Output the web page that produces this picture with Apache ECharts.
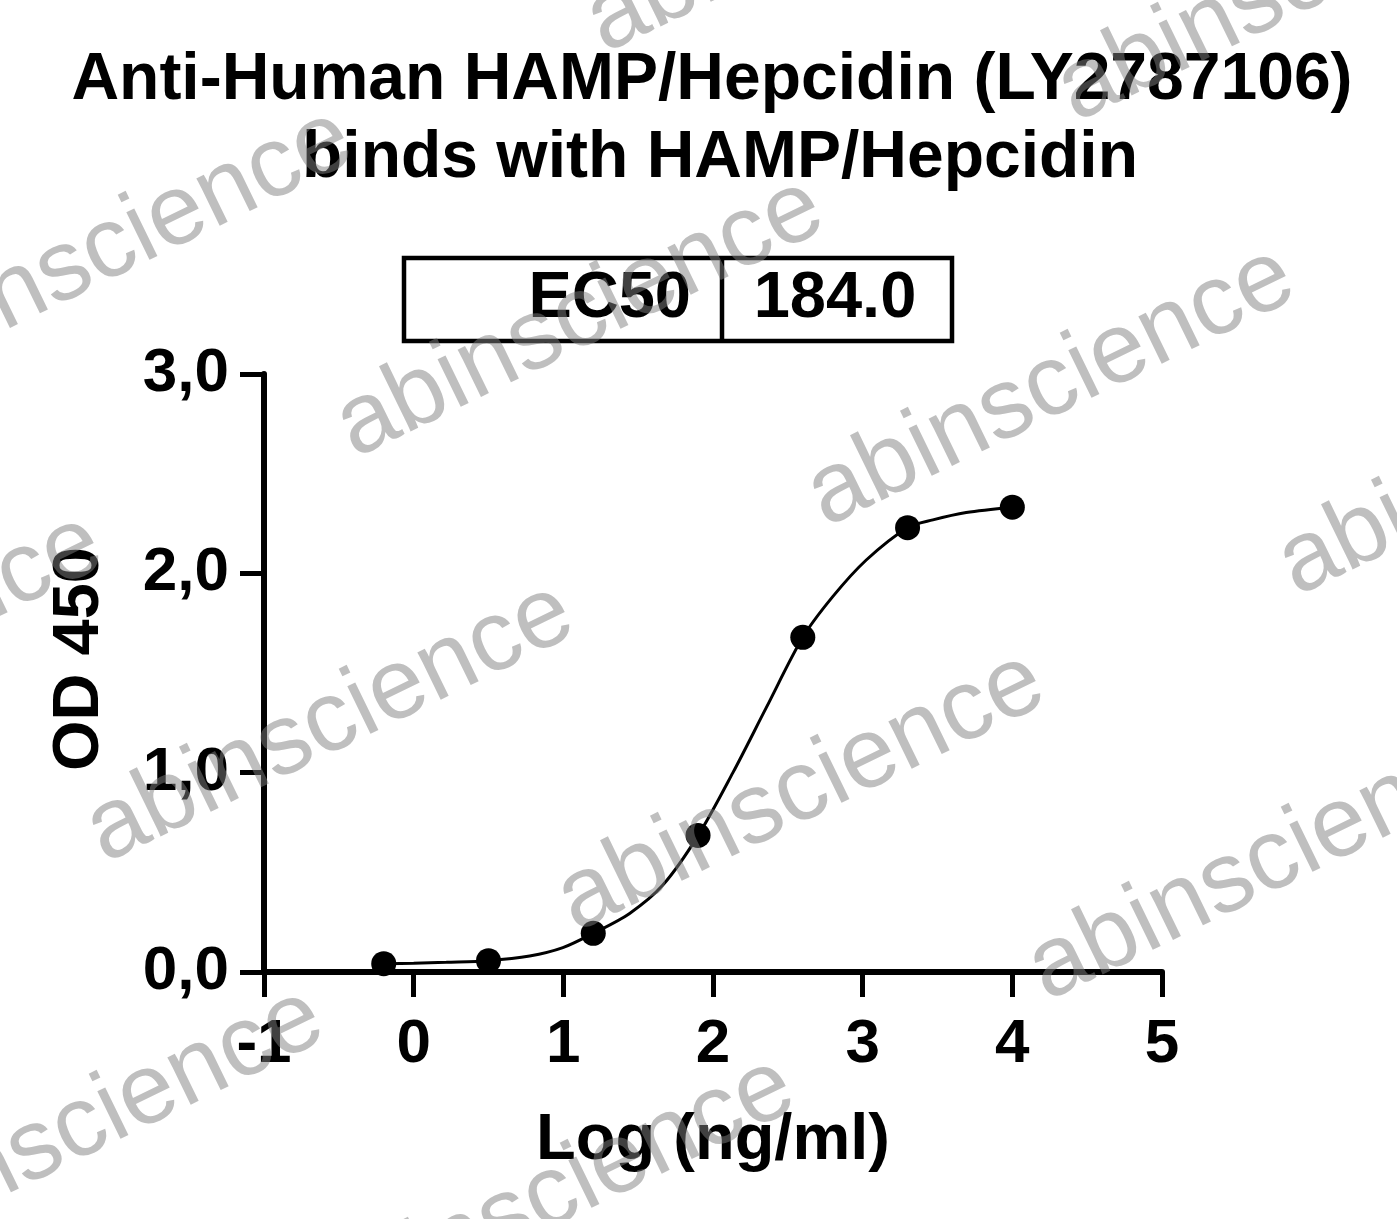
<!DOCTYPE html>
<html>
<head>
<meta charset="utf-8">
<script src="https://cdn.jsdelivr.net/npm/echarts@6/dist/echarts.min.js"></script>
<style>
html,body{margin:0;padding:0;background:#fff;}
#chart{width:1397px;height:1219px;}
</style>
</head>
<body>
<div id="chart"></div>
<script>
// ---- data ----
const titleLines = ['Anti-Human HAMP/Hepcidin (LY2787106)', 'binds with HAMP/Hepcidin'];
const ec50Label = 'EC50';
const ec50Value = '184.0';
const xAxisTitle = 'Log (ng/ml)';
const yAxisTitle = 'OD 450';
const watermarkText = 'abinscience';

// measured points
const logConc = [-0.2, 0.5, 1.2, 1.9, 2.6, 3.3, 4.0];
const od450   = [0.042, 0.057, 0.194, 0.685, 1.679, 2.229, 2.332];

// fitted curve
const fitX = [-0.2, 0.0, 0.218, 0.5, 0.775, 0.997, 1.2, 1.443, 1.665, 1.9, 2.133, 2.356, 2.6, 2.80, 3.024, 3.3, 3.469, 3.692, 4.0];
const fitY = [0.042, 0.044, 0.049, 0.057, 0.08, 0.122, 0.194, 0.294, 0.436, 0.684, 1.0, 1.326, 1.679, 1.883, 2.067, 2.229, 2.268, 2.305, 2.332];

// ---- chart ----
const FONT = '"Liberation Sans", Arial, sans-serif';
const chart = echarts.init(document.getElementById('chart'));

const wmBase = [580, 318], wmA = [471, 69], wmB = [-250, 405];
const wmCells = [[0,-1],[1,-1],[-1,0],[0,0],[1,0],[2,0],[-1,1],[0,1],[1,1],[2,1],[-1,2],[0,2],[1,2]];
const watermarks = wmCells.map(([i, j]) => ({
  type: 'text',
  x: wmBase[0] + i * wmA[0] + j * wmB[0],
  y: wmBase[1] + i * wmA[1] + j * wmB[1],
  rotation: 26 * Math.PI / 180,
  z: 100,
  silent: true,
  style: {
    text: watermarkText,
    font: '100px ' + FONT,
    fill: 'rgba(128,128,128,0.5)',
    textAlign: 'center',
    textVerticalAlign: 'middle'
  }
}));

const option = {
  backgroundColor: '#fff',
  animation: false,
  grid: { left: 264, right: 235, top: 374, bottom: 247, containLabel: false, outerBoundsMode: 'none' },
  xAxis: {
    type: 'value', min: -1, max: 5, interval: 1,
    splitLine: { show: false },
    axisLine: { show: true, onZero: false, lineStyle: { color: '#000', width: 6 } },
    axisTick: { show: true, length: 25, lineStyle: { color: '#000', width: 5 } },
    axisLabel: { color: '#000', fontSize: 62, fontWeight: 'bold', fontFamily: FONT, margin: 42 }
  },
  yAxis: {
    type: 'value', min: 0, max: 3, interval: 1,
    splitLine: { show: false },
    axisLine: { show: true, onZero: false, lineStyle: { color: '#000', width: 6 } },
    axisTick: { show: true, length: 24, lineStyle: { color: '#000', width: 5 } },
    axisLabel: {
      color: '#000', fontSize: 62, fontWeight: 'bold', fontFamily: FONT, margin: 35,
      formatter: v => v.toFixed(1).replace('.', ',')
    }
  },
  series: [
    {
      type: 'line',
      data: fitX.map((x, i) => [x, fitY[i]]),
      showSymbol: false, symbol: 'none',
      smooth: 0.3,
      lineStyle: { color: '#000', width: 3 },
      z: 2
    },
    {
      type: 'scatter',
      data: logConc.map((x, i) => [x, od450[i]]),
      symbol: 'circle', symbolSize: 25,
      itemStyle: { color: '#000', opacity: 1 },
      z: 3
    }
  ],
  graphic: [
    { type: 'text', x: 712, y: 81, style: { text: titleLines[0], font: 'bold 66px ' + FONT, fill: '#000', textAlign: 'center', textVerticalAlign: 'middle' } },
    { type: 'text', x: 720, y: 159, style: { text: titleLines[1], font: 'bold 66px ' + FONT, fill: '#000', textAlign: 'center', textVerticalAlign: 'middle' } },
    { type: 'rect', shape: { x: 404, y: 258, width: 548, height: 83 }, style: { fill: 'none', stroke: '#000', lineWidth: 4.5 } },
    { type: 'line', shape: { x1: 722, y1: 258, x2: 722, y2: 341 }, style: { stroke: '#000', lineWidth: 4.5 } },
    { type: 'text', x: 691, y: 299, style: { text: ec50Label, font: 'bold 65px ' + FONT, fill: '#000', textAlign: 'right', textVerticalAlign: 'middle' } },
    { type: 'text', x: 835, y: 299, style: { text: ec50Value, font: 'bold 65px ' + FONT, fill: '#000', textAlign: 'center', textVerticalAlign: 'middle' } },
    { type: 'text', x: 713, y: 1141, style: { text: xAxisTitle, font: 'bold 65px ' + FONT, fill: '#000', textAlign: 'center', textVerticalAlign: 'middle' } },
    { type: 'text', x: 80, y: 659, rotation: Math.PI / 2, style: { text: yAxisTitle, font: 'bold 65px ' + FONT, fill: '#000', textAlign: 'center', textVerticalAlign: 'middle' } }
  ].concat(watermarks)
};
chart.setOption(option);
</script>
</body>
</html>
